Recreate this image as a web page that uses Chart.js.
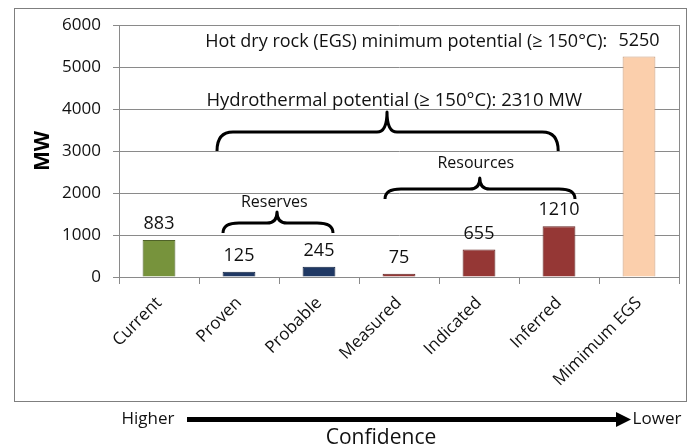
<!DOCTYPE html>
<html><head><meta charset="utf-8">
<script src="https://cdn.jsdelivr.net/npm/chart.js@4.4.1/dist/chart.umd.min.js"></script>
<style>html,body{margin:0;padding:0;background:#fff;}#wrap{width:692px;height:448px;}</style>
</head><body><div id="wrap"><canvas id="c" width="692" height="448"></canvas></div>
<script>
// ---- data ----
const categories = ['Current','Proven','Probable','Measured','Indicated','Inferred','Mimimum EGS'];
const valuesMW = [883, 125, 245, 75, 655, 1210, 5250];
const barColors = ['#77933C','#1F3864','#1F3864','#953735','#953735','#953735','#FBCFAC'];
const barBorders = ['#4F6228','#132442','#132442','#632523','#632523','#632523','#C89B7B'];
const yMin = 0, yMax = 6000, yStep = 1000;
const yTitle = 'MW';
// annotation braces: x in category-index units [start, tip, end], y in MW [ends, middle, tip]
const braceX = [[0.725, 2.85, 4.99], [2.825, 4.01, 5.2], [0.8, 1.475, 2.175]];
const braceY = [[3000, 3450, 3930], [1860, 2095, 2360], [1050, 1285, 1550]];
const noteTexts = ['Hot dry rock (EGS) minimum potential (\u2265 150\u00B0C):', 'Hydrothermal potential (\u2265 150\u00B0C): 2310 MW', 'Resources', 'Reserves'];
const noteX = [3.09, 2.94, 3.96, 1.44];
const noteY = [5595, 4190, 2714, 1786];
const noteSizes = [18, 18.5, 16, 16];
const confidenceTexts = ['Higher', 'Lower', 'Confidence'];

const FONT = "'Open Sans', 'DejaVu Sans', sans-serif";
const TXT = '#111';

const decorPlugin = {
  id: 'decor',
  beforeDraw(chart) {
    const ctx = chart.ctx;
    ctx.save();
    ctx.fillStyle = '#fff';
    ctx.fillRect(0, 0, chart.width, chart.height);
    ctx.restore();
  },
  afterDraw(chart) {
    const ctx = chart.ctx;
    const xs = chart.scales.x, ys = chart.scales.y;
    const ca = chart.chartArea;
    const xp = v => xs.getPixelForValue(0) + v * (xs.getPixelForValue(1) - xs.getPixelForValue(0));
    ctx.save();
    // plot area right border
    ctx.strokeStyle = '#8a8a8a'; ctx.lineWidth = 1;
    ctx.beginPath(); ctx.moveTo(Math.round(ca.right) + 0.5, ca.top); ctx.lineTo(Math.round(ca.right) + 0.5, ca.bottom); ctx.stroke();
    // outer frame
    ctx.strokeStyle = '#7f7f7f';
    ctx.strokeRect(14.5, 8.5, 672, 393);
    // value labels
    const meta = chart.getDatasetMeta(0);
    ctx.fillStyle = TXT; ctx.font = '18px ' + FONT; ctx.textAlign = 'center'; ctx.textBaseline = 'middle';
    meta.data.forEach((el, i) => { ctx.fillText(String(valuesMW[i]), el.x, el.y - 16); });
    // braces
    ctx.strokeStyle = '#000'; ctx.lineWidth = 3; ctx.lineJoin = 'round'; ctx.lineCap = 'butt';
    braceX.forEach((bx, k) => {
      const x1 = xp(bx[0]), xm = xp(bx[1]), x2 = xp(bx[2]);
      const ye = ys.getPixelForValue(braceY[k][0]), ym = ys.getPixelForValue(braceY[k][1]), yt = ys.getPixelForValue(braceY[k][2]);
      const r = Math.min(16, (x2 - x1) / 6);
      const r2 = 10;
      ctx.beginPath();
      ctx.moveTo(x1, ye);
      ctx.quadraticCurveTo(x1, ym, x1 + r, ym);
      ctx.lineTo(xm - r2, ym);
      ctx.quadraticCurveTo(xm, ym, xm, yt);
      ctx.quadraticCurveTo(xm, ym, xm + r2, ym);
      ctx.lineTo(x2 - r, ym);
      ctx.quadraticCurveTo(x2, ym, x2, ye);
      ctx.stroke();
    });
    // notes
    ctx.fillStyle = TXT;
    noteTexts.forEach((t, k) => {
      ctx.font = noteSizes[k] + 'px ' + FONT;
      ctx.fillText(t, xp(noteX[k]), ys.getPixelForValue(noteY[k]));
    });
    // confidence arrow
    ctx.font = '17px ' + FONT;
    ctx.fillText(confidenceTexts[0], 148, 419);
    ctx.fillText(confidenceTexts[1], 657, 419);
    ctx.font = '21px ' + FONT;
    ctx.fillText(confidenceTexts[2], 381, 438);
    ctx.fillStyle = '#000';
    ctx.fillRect(187, 417, 431, 5);
    ctx.beginPath(); ctx.moveTo(616, 412); ctx.lineTo(631, 419.5); ctx.lineTo(616, 427); ctx.closePath(); ctx.fill();
    ctx.restore();
  }
};

new Chart(document.getElementById('c'), {
  type: 'bar',
  data: {
    labels: categories,
    datasets: [{
      data: valuesMW,
      backgroundColor: barColors,
      borderColor: barBorders,
      borderWidth: 1,
      barPercentage: 0.41,
      categoryPercentage: 1.0
    }]
  },
  options: {
    responsive: false,
    animation: false,
    devicePixelRatio: 1,
    layout: { padding: { left: 0, top: 25, right: 13, bottom: 0 } },
    plugins: { legend: { display: false }, tooltip: { enabled: false } },
    scales: {
      x: {
        grid: { offset: true, drawOnChartArea: false, drawTicks: true, tickLength: 7, color: '#8a8a8a' },
        border: { color: '#8a8a8a' },
        ticks: { minRotation: 45, maxRotation: 45, autoSkip: false, color: TXT, padding: 9, font: { family: FONT, size: 17 } },
        afterFit(s) { s.height = 171; }
      },
      y: {
        min: yMin, max: yMax,
        ticks: { stepSize: yStep, color: TXT, padding: 12, font: { family: FONT, size: 17 }, callback: v => String(v) },
        grid: { color: '#8a8a8a', tickLength: 6 },
        border: { color: '#8a8a8a' },
        title: { display: true, text: yTitle, color: '#000', font: { family: FONT, size: 21, weight: 'bold' }, padding: { top: 30, bottom: 0 } },
        afterFit(s) { s.width = 119; }
      }
    }
  },
  plugins: [decorPlugin]
});
</script>
</body></html>
